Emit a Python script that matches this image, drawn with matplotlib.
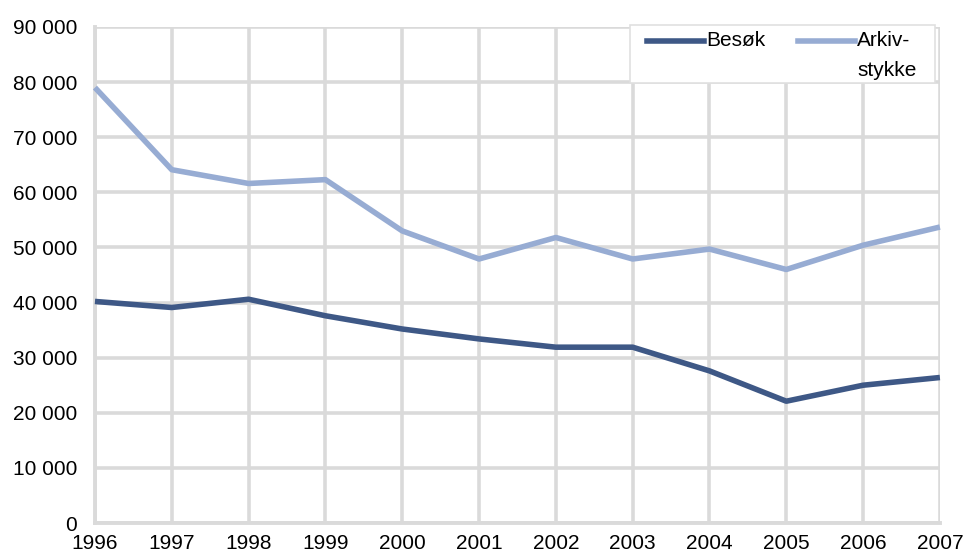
import matplotlib
matplotlib.use("Agg")
import matplotlib.pyplot as plt
from matplotlib.lines import Line2D
from matplotlib.patches import Rectangle

plt.rcParams['font.family'] = ['Liberation Sans', 'DejaVu Sans']

years = [1996, 1997, 1998, 1999, 2000, 2001, 2002, 2003, 2004, 2005, 2006, 2007]
besok = [40200, 39100, 40600, 37600, 35200, 33400, 31900, 31900, 27600, 22100, 25000, 26400]
arkiv = [79000, 64100, 61600, 62300, 53000, 47900, 51800, 47900, 49700, 46000, 50400, 53700]
yticks = list(range(0, 90001, 10000))
ylabels = ['0' if v == 0 else f'{v // 1000} 000' for v in yticks]

C_BES = '#3e5886'
C_ARK = '#97acd3'
GRID = '#dadada'
FS = 15

fig = plt.figure(figsize=(9.65, 5.58), dpi=100)
ax = fig.add_axes([0.0984, 0.0627, 0.8756, 0.889])

ax.plot(years, besok, color=C_BES, lw=4.0, solid_capstyle='butt', clip_on=False, zorder=3)
ax.plot(years, arkiv, color=C_ARK, lw=4.0, solid_capstyle='butt', clip_on=False, zorder=3)

ax.set_xlim(years[0], years[-1])
ax.set_ylim(0, 90000)
ax.set_xticks(years)
ax.set_xticklabels([str(y) for y in years])
ax.set_yticks(yticks)
ax.set_yticklabels(ylabels)
ax.tick_params(length=0, labelsize=FS, colors='black')
ax.tick_params(axis='x', pad=8)
ax.tick_params(axis='y', pad=13)
ax.grid(True, color=GRID, lw=2.6)
ax.set_axisbelow(True)
for side in ('top', 'right'):
    ax.spines[side].set_visible(False)
for side in ('left', 'bottom'):
    ax.spines[side].set_color(GRID)
    ax.spines[side].set_linewidth(2.8)

# legend box in the upper right corner
t = ax.transAxes
ax.add_patch(Rectangle((0.633, 0.888), 0.361, 0.116, transform=t, facecolor='white',
                       edgecolor='#e0e0e0', lw=1.2, zorder=5, clip_on=False))
ly = 0.972
ax.add_line(Line2D([0.653, 0.721], [ly, ly], transform=t, color=C_BES, lw=4.0, zorder=6))
ax.text(0.724, ly, 'Besøk', transform=t, fontsize=FS, va='center', ha='left', zorder=6)
ax.add_line(Line2D([0.832, 0.899], [ly, ly], transform=t, color=C_ARK, lw=4.0, zorder=6))
ax.text(0.902, ly, 'Arkiv-', transform=t, fontsize=FS, va='center', ha='left', zorder=6)
ax.text(0.902, ly - 0.06, 'stykke', transform=t, fontsize=FS, va='center', ha='left', zorder=6)

fig.savefig('out.png', dpi=100)
